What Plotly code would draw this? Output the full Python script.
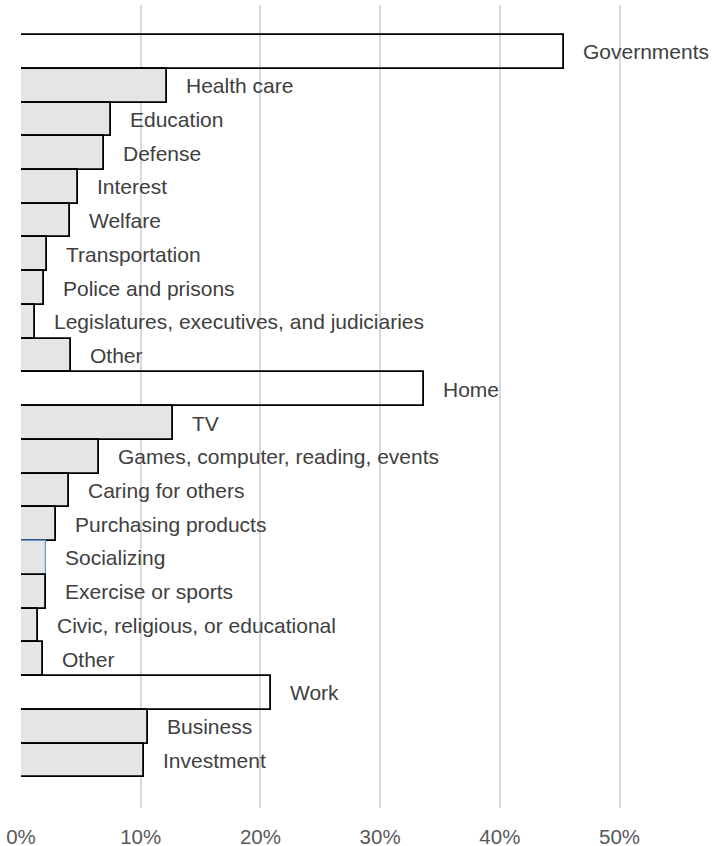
import plotly.graph_objects as go

categories = [
    "Governments", "Health care", "Education", "Defense", "Interest", "Welfare",
    "Transportation", "Police and prisons", "Legislatures, executives, and judiciaries",
    "Other", "Home", "TV", "Games, computer, reading, events", "Caring for others",
    "Purchasing products", "Socializing", "Exercise or sports",
    "Civic, religious, or educational", "Other", "Work", "Business", "Investment",
]
values = [45.4, 12.2, 7.5, 6.9, 4.8, 4.1, 2.2, 1.9, 1.2, 4.2,
          33.7, 12.7, 6.5, 4.0, 2.9, 2.1, 2.1, 1.4, 1.8,
          20.9, 10.6, 10.3]
is_total = [True, False, False, False, False, False, False, False, False, False,
            True, False, False, False, False, False, False, False, False,
            True, False, False]
tick_vals = [0, 10, 20, 30, 40, 50]
tick_text = ["0%", "10%", "20%", "30%", "40%", "50%"]

positions = list(range(len(categories)))

fill_colors = ["rgba(0,0,0,0)" if t else "#e5e5e5" for t in is_total]
line_colors = ["#5b9bd5" if c == "Socializing" else "#000000" for c in categories]
line_widths = [1.2 if c == "Socializing" else 1.8 for c in categories]

fig = go.Figure()
fig.add_trace(go.Bar(
    x=values, y=positions, orientation="h",
    marker=dict(color=fill_colors, line=dict(color=line_colors, width=line_widths)),
    width=1, hoverinfo="skip", showlegend=False,
))

for p, v, c in zip(positions, values, categories):
    fig.add_annotation(
        x=v, y=p, text=c, showarrow=False, xanchor="left", yanchor="middle",
        xshift=17, font=dict(family="Liberation Sans, Arial", size=21, color="#404040"),
    )

fig.update_layout(
    width=714, height=846,
    margin=dict(l=21, r=14, t=5, b=38, autoexpand=False),
    paper_bgcolor="white", plot_bgcolor="white",
    bargap=0,
    xaxis=dict(
        range=[0, 56.72], tickvals=tick_vals, ticktext=tick_text,
        showgrid=True, gridcolor="#d9d9d9", gridwidth=2,
        zeroline=False, showline=False, ticks="", automargin=False,
        tickfont=dict(family="Liberation Sans, Arial", size=20.5, color="#595959"),
        ticklabelstandoff=14,
    ),
    yaxis=dict(
        range=[22.41, -1.39], showgrid=False, zeroline=False, automargin=False,
        showticklabels=False, ticks="", showline=False,
    ),
)

fig.write_html("out.html", config={"displayModeBar": False},
               post_script="document.body.style.margin='0';")
